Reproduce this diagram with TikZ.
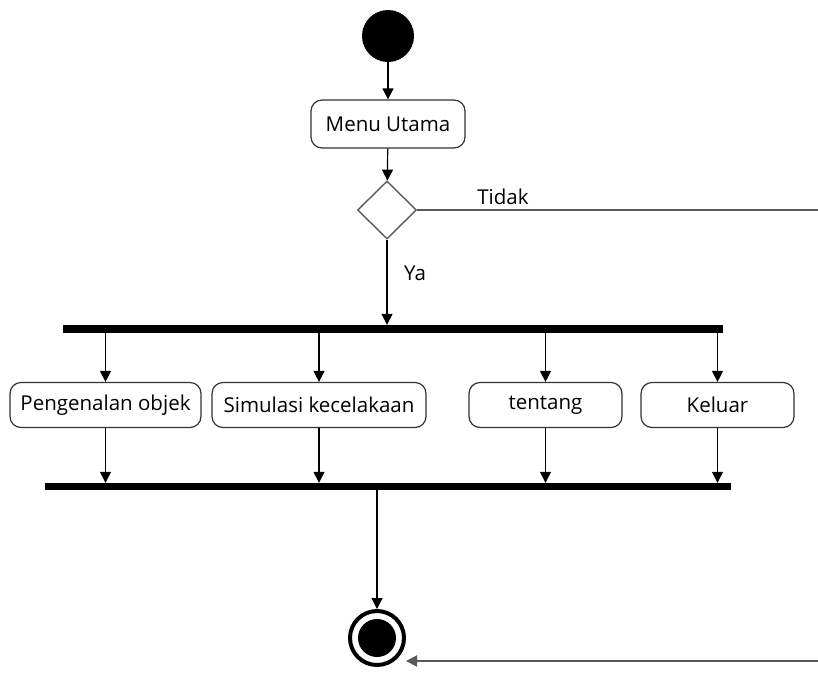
\documentclass[tikz,border=0pt]{standalone}
\usepackage{fontspec}
\setmainfont{Open Sans}
\usetikzlibrary{arrows.meta,shapes.geometric}
\begin{document}
\begin{tikzpicture}[x=1pt,y=-1pt,
  font=\fontsize{20.5}{24}\selectfont,
  act/.style={draw=black!80, line width=1.2pt, rounded corners=11pt, fill=white, inner sep=0pt},
  bar/.style={fill=black, draw=none, inner sep=0pt},
  flow/.style={draw=black, line width=1.2pt, -{Triangle[width=11pt,length=11pt]}},
  plain/.style={draw=black!65, line width=2pt},
  lbl/.style={inner sep=0pt, text=black}
]
\useasboundingbox (0,0) rectangle (818,673);
\fill[white] (0,0) rectangle (818,673);
% start
\node[circle, fill=black, minimum size=52pt, inner sep=0pt] (start) at (388,36) {};
\node[act, minimum width=154pt, minimum height=48pt] (menu) at (388,124) {Menu Utama};
\node[diamond, draw=black!65, line width=1.4pt, fill=white, minimum width=59pt, minimum height=58pt, inner sep=0pt] (dec) at (387,210) {};
\node[lbl] (tidak) at (503,197) {Tidak};
\node[lbl] (ya) at (415,273) {Ya};
\node[bar, minimum width=660pt, minimum height=8pt] (fork1) at (393,329) {};
\node[act, minimum width=191pt, minimum height=45pt] (p1) at (105.5,405) {Pengenalan objek};
\node[act, minimum width=214pt, minimum height=45pt] (p2) at (319,405) {Simulasi kecelakaan};
\node[act, minimum width=153pt, minimum height=45pt] (p3) at (545.5,405) {tentang};
\node[act, minimum width=153pt, minimum height=45pt] (p4) at (717.5,405) {Keluar};
\node[bar, minimum width=686pt, minimum height=7pt] (fork2) at (388,486.5) {};
\node[circle, draw=black, line width=4pt, minimum size=54pt, inner sep=0pt] (end) at (377,638) {};
\node[circle, fill=black, minimum size=38pt, inner sep=0pt] (endin) at (end.center) {};
\coordinate (r1) at (818,210);
\coordinate (r2) at (818,661);
% connectors
\draw[flow] (start) -- (menu);
\draw[flow] (menu) -- (dec);
\draw[flow] (dec.south) -- (dec.south |- fork1.north);
\draw[plain] (dec.east) -- (r1);
\foreach \p in {p1,p2,p3,p4}{
  \draw[flow] (fork1.south -| \p.north) -- (\p.north);
  \draw[flow] (\p.south) -- (\p.south |- fork2.north);
}
\draw[flow] (fork2.south -| end.north) -- (end.north);
\draw[plain, -{Triangle[width=11pt,length=11pt]}] (r2) -- (r2 -| end.east);
\end{tikzpicture}
\end{document}
